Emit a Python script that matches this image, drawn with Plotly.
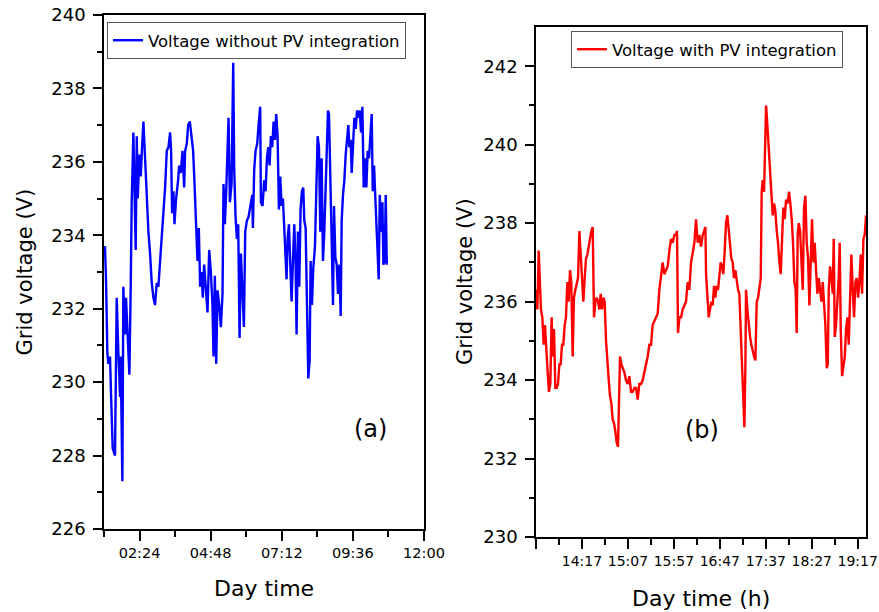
import plotly.graph_objects as go

# ---- Series (a): grid voltage without PV integration ----
# sample times in minutes after midnight
t_without = [
    72.0, 74.0, 76.1, 78.8, 80.8, 84.2, 86.2, 89.6, 94.3, 97.7,
    101.1, 104.5, 105.8, 109.2, 111.2, 114.6, 116.6, 119.3, 123.4, 126.1,
    128.1, 131.5, 133.5, 136.2, 138.3, 140.3, 143.7, 146.4, 149.1, 151.8,
    154.5, 158.5, 161.9, 165.3, 168.7, 172.1, 175.4, 178.8, 182.2, 185.6,
    189.0, 192.3, 195.7, 199.1, 202.5, 205.9, 207.9, 209.9, 212.6, 214.7,
    218.0, 222.1,
    224.1, 227.5, 230.9, 234.3, 236.3, 239.7, 242.4, 245.8, 249.2, 252.5,
    255.9, 258.6, 261.3, 264.0, 266.7, 269.4, 272.1, 274.8, 278.2, 281.6,
    285.0, 288.4, 291.7, 293.8, 296.5, 299.2, 301.9, 305.3, 308.6, 312.0,
    314.0, 316.8, 319.5, 322.2, 324.2, 326.9, 330.3, 333.7, 335.7, 338.4,
    341.1, 343.8, 346.5, 349.2, 352.6, 355.3, 358.0, 361.4, 364.7, 368.1,
    372.2,
    373.5, 376.2, 378.9, 382.3, 385.0, 388.3, 389.7, 393.1, 396.4, 399.2,
    401.9, 404.6, 407.3, 410.0, 412.7, 415.4, 418.1, 420.8, 423.5, 426.2,
    428.9, 431.6, 434.3, 437.0, 439.7, 441.7, 443.8, 446.5, 449.2, 451.9,
    454.6, 457.3, 460.0, 462.0, 464.7, 467.4, 470.1, 472.8, 475.5, 477.6,
    480.3, 483.0, 485.7, 488.4, 490.4, 493.1, 495.8, 499.2, 501.9, 504.6,
    507.3, 510.0, 512.7, 515.4, 518.1, 522.2,
    525.6, 527.6, 530.3, 533.0, 535.7, 537.8, 540.5, 543.2, 545.9, 548.6,
    551.3, 553.3, 556.0, 558.7, 561.4, 564.1, 566.8, 568.9, 571.6, 573.6,
    576.3, 579.0, 581.7, 584.4, 587.1, 589.8, 592.5, 595.2, 597.9, 600.6,
    603.3, 606.0, 608.7, 611.4, 614.1, 616.2, 618.9, 620.9, 623.6, 626.3,
    628.3, 630.4, 633.1, 635.8, 637.8, 640.5, 642.5, 644.6,
]
v_without = [
    233.6, 233.7, 232.8, 230.8, 230.5, 230.7, 229.7, 228.2, 228.0, 232.3,
    230.8, 229.6, 230.7, 227.3, 232.6, 231.3, 232.3, 231.3, 230.2, 232.6,
    234.9, 236.8, 235.0, 233.6, 236.7, 235.0, 236.2, 235.6, 236.4, 237.1,
    236.3, 235.0, 234.1, 233.5, 232.7, 232.3, 232.1, 232.7, 232.6, 233.3,
    233.9, 234.5, 235.3, 236.3, 236.4, 236.8, 236.3, 234.6, 235.2, 234.3,
    235.0, 235.5,
    235.9, 235.7, 236.3, 235.3, 236.3, 236.5, 237.0, 237.1, 236.7, 236.3,
    235.2, 234.3, 233.3, 234.2, 232.6, 233.0, 232.3, 233.2, 232.5, 231.9,
    233.6, 233.0, 232.1, 230.7, 232.9, 230.5, 232.5, 232.1, 231.5, 232.4,
    235.4, 234.3, 235.2, 236.3, 237.2, 234.9, 235.4, 238.7, 235.8, 234.5,
    233.9, 234.3, 231.2, 233.5, 232.4, 231.5, 234.1, 234.4, 234.5, 234.8,
    235.1,
    234.2, 235.8, 236.3, 236.5, 237.0, 237.5, 234.9, 234.8, 235.5, 235.2,
    236.1, 236.4, 235.9, 236.7, 236.4, 237.1, 236.6, 237.3, 236.7, 234.7,
    235.6, 234.8, 235.0, 234.2, 233.7, 232.8, 233.9, 234.3, 233.2, 232.2,
    233.3, 234.3, 233.2, 231.3, 234.1, 232.6, 234.7, 235.2, 235.3, 234.4,
    234.2, 232.4, 230.1, 230.6, 233.3, 232.1, 233.1, 233.7, 235.0, 236.7,
    236.4, 234.1, 236.1, 233.3, 234.1, 236.1,
    237.4, 237.3, 235.9, 233.9, 232.1, 234.8, 233.4, 233.2, 232.4, 233.2,
    231.8, 234.4, 235.1, 235.5, 236.2, 236.6, 237.0, 236.4, 236.6, 235.7,
    236.5, 237.2, 236.9, 237.4, 237.2, 237.4, 236.8, 237.5, 235.3, 236.1,
    235.3, 236.3, 236.1, 236.8, 237.3, 235.2, 235.9, 235.2, 234.3, 233.6,
    232.8, 235.1, 234.1, 234.9, 233.2, 233.3, 235.1, 233.2,
]

# ---- Series (b): grid voltage with PV integration ----
t_with = [
    807.0, 808.5, 809.9, 811.4, 812.4, 813.9, 815.3, 816.8, 818.2, 819.7,
    821.1, 822.6, 824.0, 825.1, 826.6, 828.0, 829.5, 830.9, 832.4, 833.8,
    835.3, 836.7, 838.2, 839.6, 841.1, 842.5, 844.0, 845.4, 846.9, 848.3,
    849.8, 851.3, 852.7, 854.2, 855.6, 857.1, 858.5, 860.0, 861.4, 862.9,
    864.3, 865.8, 867.2, 868.7, 870.1, 871.6, 873.0, 874.5, 875.9, 877.4,
    878.8, 880.3, 881.7, 883.2, 884.6, 886.1, 887.5, 889.0, 890.4, 891.9,
    893.3, 894.8, 896.2,
    898.4, 899.9, 901.3, 903.1, 904.9, 906.7, 908.6, 910.4, 912.2, 914.0,
    915.8, 917.6, 919.4, 921.3, 923.1, 924.9, 926.7, 928.5, 930.3, 932.1,
    933.9, 935.8, 937.6, 939.4, 941.2, 943.0, 944.8, 946.6, 948.5, 950.3,
    952.1, 953.9, 955.7, 957.5, 959.3, 960.4, 961.5, 963.0, 964.8, 966.6,
    968.4, 970.2, 972.0, 973.8, 975.7, 977.5, 979.3, 981.1, 982.9, 984.7,
    986.5, 988.4,
    989.8, 991.3, 992.0, 993.4, 994.9, 996.3, 997.8, 999.2, 1000.7, 1002.1,
    1003.6, 1005.0, 1006.5, 1007.9, 1009.4, 1010.8, 1012.3, 1013.7, 1015.2, 1016.6,
    1018.1, 1019.5, 1021.0, 1022.4, 1023.9, 1025.3, 1026.8, 1028.2, 1029.7, 1031.1,
    1032.6, 1033.7, 1034.8, 1035.5, 1036.9, 1038.4, 1039.9, 1041.3, 1042.8, 1044.2,
    1045.7, 1047.1, 1048.6, 1050.0, 1051.5, 1052.5, 1053.6, 1055.1, 1056.2, 1057.3,
    1058.7, 1060.2, 1061.6, 1063.1, 1064.5, 1066.0, 1067.4, 1068.9, 1070.3, 1071.8,
    1073.2, 1074.7, 1076.1, 1077.6, 1079.0, 1080.5,
    1082.3, 1083.7, 1085.2, 1086.6, 1088.1, 1089.5, 1090.6, 1091.7, 1092.8, 1094.3,
    1095.7, 1097.2, 1098.6, 1100.1, 1101.5, 1103.0, 1104.4, 1105.9, 1107.3, 1108.8,
    1110.2, 1111.7, 1113.1, 1114.6, 1116.0, 1117.5, 1118.9, 1120.4, 1121.8, 1123.3,
    1124.4, 1125.5, 1126.9, 1128.4, 1129.8, 1130.9, 1132.0, 1133.4, 1134.9, 1136.3,
    1137.4, 1138.5, 1140.0, 1141.4, 1142.9, 1144.3, 1145.8, 1147.2, 1148.7, 1150.1,
    1151.6, 1153.0, 1154.5, 1155.9, 1157.4, 1158.8, 1160.3, 1161.7, 1163.2, 1164.6,
    1166.1,
]
v_with = [
    236.3, 235.8, 237.3, 236.6, 235.8, 235.6, 234.9, 235.4, 234.6, 234.2,
    233.7, 233.9, 235.6, 234.6, 235.3, 233.8, 233.8, 233.9, 234.4, 234.4,
    234.9, 234.9, 235.4, 235.6, 236.5, 236.0, 236.8, 236.5, 234.6, 236.1,
    236.3, 236.5, 236.6, 237.8, 237.1, 236.3, 236.0, 236.6, 237.1, 237.2,
    237.4, 237.7, 237.8, 237.9, 235.6, 236.0, 236.1, 236.0, 235.8, 236.2,
    235.8, 236.1, 236.0, 235.0, 234.4, 234.0, 233.6, 233.4, 233.0, 232.9,
    232.7, 232.4, 232.3,
    234.6, 234.4, 234.3, 234.2, 234.0, 233.9, 234.1, 233.7, 233.7, 233.8,
    233.8, 233.5, 233.9, 233.9, 234.0, 234.2, 234.4, 234.6, 234.9, 234.9,
    235.4, 235.5, 235.6, 235.7, 236.3, 236.6, 237.0, 236.7, 236.8, 236.9,
    237.3, 237.6, 237.5, 237.7, 237.7, 237.8, 235.2, 235.6, 235.6, 235.8,
    235.9, 236.0, 236.5, 236.3, 237.0, 237.3, 237.5, 238.1, 237.5, 237.7,
    237.4, 237.7,
    237.8, 237.9, 236.7, 236.0, 235.6, 235.8, 236.0, 235.9, 236.4, 236.1,
    236.4, 236.3, 236.6, 237.0, 236.9, 236.7, 237.3, 238.0, 238.2, 237.8,
    237.3, 237.1, 237.0, 236.6, 236.8, 236.5, 236.3, 236.2, 235.3, 234.6,
    233.8, 232.8, 234.4, 236.3, 235.8, 235.4, 235.1, 234.9, 234.7, 234.6,
    234.5, 236.0, 236.1, 236.3, 236.6, 238.8, 239.1, 238.8, 240.1, 241.0,
    240.5, 239.9, 239.4, 238.6, 238.2, 238.5, 238.3, 237.8, 237.5, 237.0,
    236.7, 237.6, 238.4, 238.1, 238.6, 238.5,
    238.8, 238.5, 238.1, 237.5, 236.5, 236.3, 235.2, 237.7, 238.0, 237.8,
    236.8, 236.3, 238.4, 238.7, 237.5, 237.1, 235.9, 237.3, 238.1, 237.0,
    237.5, 236.8, 236.2, 236.6, 236.3, 236.0, 236.5, 236.0, 235.4, 234.3,
    234.4, 236.3, 236.9, 236.6, 236.2, 237.6, 235.1, 235.4, 236.0, 236.6,
    237.5, 235.3, 234.1, 234.3, 234.6, 235.3, 235.6, 234.9, 236.1, 237.2,
    236.3, 235.6, 236.5, 236.6, 236.1, 236.5, 237.2, 236.2, 237.6, 237.7,
    238.2,
]

# ---- Axis ticks ----
ticks_a = [144, 288, 432, 576, 720]
labels_a = ["02:24", "04:48", "07:12", "09:36", "12:00"]
minor_a = [72, 216, 360, 504, 648]

ticks_b = [807, 857, 907, 957, 1007, 1057, 1107, 1157]
labels_b = ["", "14:17", "15:07", "15:57", "16:47", "17:37", "18:27", "19:17"]
minor_b = [832, 882, 932, 982, 1032, 1082, 1132]

yticks_a = [226, 228, 230, 232, 234, 236, 238, 240]
yminor_a = [227, 229, 231, 233, 235, 237, 239]
yticks_b = [230, 232, 234, 236, 238, 240, 242]
yminor_b = [231, 233, 235, 237, 239, 241]

W, H = 879, 612
FONT = "DejaVu Sans"
INK = "#000000"

fig = go.Figure()
fig.add_trace(go.Scatter(
    x=t_without, y=v_without, mode="lines",
    line=dict(color="#0000FF", width=2.4),
    name="Voltage without PV integration",
    xaxis="x", yaxis="y", legend="legend",
))
fig.add_trace(go.Scatter(
    x=t_with, y=v_with, mode="lines",
    line=dict(color="#FF0000", width=2.4),
    name="Voltage with PV integration",
    xaxis="x2", yaxis="y2", legend="legend2",
))


def frame_axis(**kw):
    base = dict(
        showline=True, linecolor="black", linewidth=1.5, mirror=True,
        ticks="outside", tickwidth=1.5, tickcolor="black",
        showgrid=False, zeroline=False, automargin=False,
    )
    base.update(kw)
    return base


minor_style = dict(ticks="outside", tickwidth=1.5, tickcolor="black", showgrid=False)

fig.update_layout(
    width=W, height=H, autosize=False,
    margin=dict(l=0, r=0, t=0, b=0),
    paper_bgcolor="white", plot_bgcolor="white",
    font=dict(family=FONT, color=INK),
    xaxis=frame_axis(
        domain=[104 / W, 424 / W], anchor="y", range=[72, 720],
        tickmode="array", tickvals=ticks_a, ticktext=labels_a,
        ticklen=10, tickfont=dict(size=14.5),
        minor=dict(tickmode="array", tickvals=minor_a, ticklen=6, **minor_style),
    ),
    yaxis=frame_axis(
        domain=[1 - 529 / H, 1 - 15 / H], anchor="x", range=[226, 240],
        tickmode="array", tickvals=yticks_a, ticklen=9,
        tickfont=dict(size=18), ticklabelstandoff=4,
        minor=dict(tickmode="array", tickvals=yminor_a, ticklen=5, **minor_style),
    ),
    xaxis2=frame_axis(
        domain=[536 / W, 866 / W], anchor="y2", range=[807, 1166],
        tickmode="array", tickvals=ticks_b, ticktext=labels_b,
        ticklen=10, tickfont=dict(size=14),
        minor=dict(tickmode="array", tickvals=minor_b, ticklen=6, **minor_style),
    ),
    yaxis2=frame_axis(
        domain=[1 - 537 / H, 1 - 27 / H], anchor="x2", range=[230, 243],
        tickmode="array", tickvals=yticks_b, ticklen=9,
        tickfont=dict(size=18), ticklabelstandoff=4,
        minor=dict(tickmode="array", tickvals=yminor_b, ticklen=5, **minor_style),
    ),
    legend=dict(
        x=107 / W, y=1 - 22 / H, xanchor="left", yanchor="top",
        bgcolor="white", bordercolor="#555555", borderwidth=1,
        font=dict(size=16.5, family=FONT, color=INK), itemwidth=30,
    ),
    legend2=dict(
        x=571 / W, y=1 - 31 / H, xanchor="left", yanchor="top",
        bgcolor="white", bordercolor="#555555", borderwidth=1,
        font=dict(size=16.5, family=FONT, color=INK), itemwidth=30,
    ),
    showlegend=True,
)

# axis titles and panel tags
notes = [
    dict(text="Day time", x=264 / W, y=1 - 588 / H, size=22, angle=0),
    dict(text="Day time (h)", x=701 / W, y=1 - 598 / H, size=22, angle=0),
    dict(text="Grid voltage (V)", x=24 / W, y=1 - 272.5 / H, size=21, angle=-90),
    dict(text="Grid voltage (V)", x=465 / W, y=1 - 282 / H, size=21, angle=-90),
    dict(text="(a)", x=370 / W, y=1 - 429 / H, size=24, angle=0),
    dict(text="(b)", x=701.5 / W, y=1 - 430 / H, size=24, angle=0),
]
for n in notes:
    fig.add_annotation(
        text=n["text"], x=n["x"], y=n["y"], xref="paper", yref="paper",
        xanchor="center", yanchor="middle", showarrow=False,
        textangle=n["angle"], font=dict(family=FONT, size=n["size"], color=INK),
    )

fig.write_html("out.html")
